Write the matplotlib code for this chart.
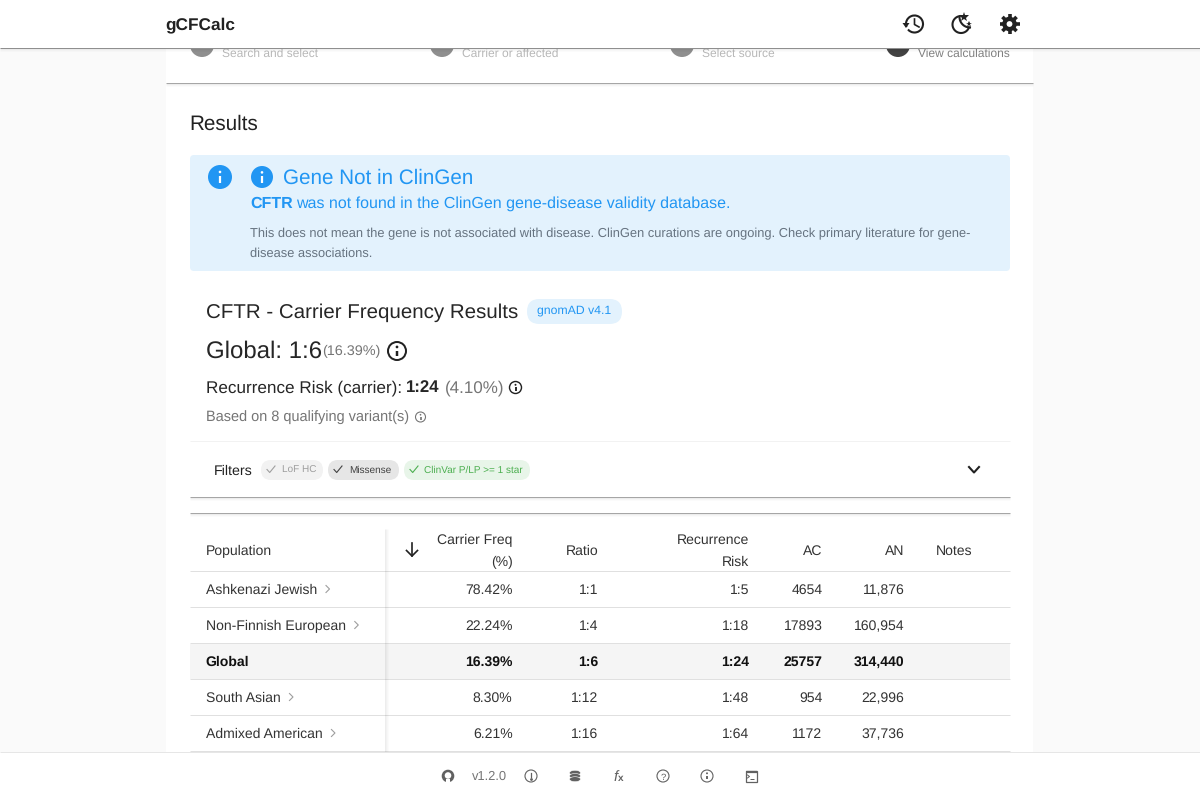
import matplotlib
matplotlib.use('Agg')
import matplotlib.pyplot as plt
import numpy as np
from matplotlib.patches import Circle, FancyBboxPatch, Rectangle, Ellipse, Arc, Polygon

plt.rcParams['font.family'] = ['Liberation Sans', 'DejaVu Sans']
plt.rcParams['text.hinting'] = 'none'
plt.rcParams['text.hinting_factor'] = 8

# table contents
populations = ['Ashkenazi Jewish', 'Non-Finnish European', 'Global', 'South Asian', 'Admixed American']
carrier_freq = ['78.42%', '22.24%', '16.39%', '8.30%', '6.21%']
ratios = ['1:1', '1:4', '1:6', '1:12', '1:16']
recurrence = ['1:5', '1:18', '1:24', '1:48', '1:64']
ac_values = ['4654', '17893', '25757', '954', '1172']
an_values = ['11,876', '160,954', '314,440', '22,996', '37,736']
step_captions = ['Search and select', 'Carrier or affected', 'Select source', 'View calculations']

DARK = '#212121'
GRAY = '#757575'
BLUE = '#2196f3'

fig = plt.figure(figsize=(12, 8), dpi=100, facecolor='#fafafa')
ax = fig.add_axes([0, 0, 1, 1])
ax.set_xlim(0, 1200)
ax.set_ylim(800, 0)
ax.axis('off')


def txt(x, y, s, px, color=DARK, ha='left', weight='normal', z=5):
    return ax.text(x, y, s, fontsize=px * 0.72, color=color, ha=ha, va='baseline',
                   fontweight=weight, zorder=z)


def rbox(x0, y0, x1, y1, r, color, z=2):
    ax.add_patch(FancyBboxPatch((x0 + r, y0 + r), x1 - x0 - 2 * r, y1 - y0 - 2 * r,
                                boxstyle='round,pad=%f,rounding_size=%f' % (r, r),
                                fc=color, ec='none', zorder=z))


def hline(x0, x1, y, color, lw=1.0, z=3, alpha=1.0):
    ax.plot([x0, x1], [y, y], color=color, lw=lw * 0.72, zorder=z, alpha=alpha, solid_capstyle='butt')


def shadow(x0, x1, y, z=3):
    # soft dark edge under a card
    hline(x0, x1, y, '#a6a6a6', 1.0, z)
    for i, a in enumerate([0.07, 0.035, 0.015]):
        hline(x0, x1, y + 1 + i, '#000000', 1, z, a)


def info_icon(x, y, r, color, lw, z=5):
    ax.add_patch(Circle((x, y), r, fc='none', ec=color, lw=lw * 0.72, zorder=z))
    ax.plot([x, x], [y - r * 0.02, y + r * 0.5], color=color, lw=r * 0.2 * 0.72 + 0.5, zorder=z,
            solid_capstyle='butt')
    ax.add_patch(Circle((x, y - r * 0.45), r * 0.13 + 0.2, fc=color, ec='none', zorder=z))


def filled_info(x, y, r):
    ax.add_patch(Circle((x, y), r, fc=BLUE, ec='none', zorder=5))
    ax.plot([x, x], [y - 1, y + r * 0.5], color='white', lw=1.6, zorder=6, solid_capstyle='butt')
    ax.add_patch(Circle((x, y - r * 0.42), 1.3, fc='white', ec='none', zorder=6))


def chevron(x, y, s, color, lw):
    ax.plot([x - s * 0.5, x + s * 0.5, x - s * 0.5], [y - s, y, y + s], color=color, lw=lw, zorder=5)


def check(x, y, color):
    ax.plot([x - 4, x - 1.3, x + 4], [y, y + 3, y - 3.5], color=color, lw=0.8, zorder=5)


# page card
ax.add_patch(Rectangle((166, 48), 867, 704, fc='white', ec='none', zorder=1))

# stepper, cut off by the app bar
step_x = [202, 442, 682, 898]
step_col = ['#8f8f8f', '#8f8f8f', '#8f8f8f', '#424242']
cap_x = [222, 462, 702, 918]
cap_col = ['#b8b8b8', '#b8b8b8', '#b8b8b8', '#808080']
for sx, sc, cx, cc, cap in zip(step_x, step_col, cap_x, cap_col, step_captions):
    ax.add_patch(Circle((sx, 45), 12, fc=sc, ec='none', zorder=2))
    txt(cx, 57, cap, 12, cc)
shadow(166, 1033, 83)

# app bar
ax.add_patch(Rectangle((0, 0), 1200, 48, fc='white', ec='none', zorder=8))
hline(0, 1200, 48, '#8f8f8f', 1.0, 9)
for i, a in enumerate([0.06, 0.03, 0.015]):
    hline(0, 1200, 49 + i, '#000000', 1, 9, a)
txt(165.5, 29, 'gCFCalc', 17.2, DARK, weight='bold', z=10)

# history icon
ax.add_patch(Arc((914.5, 24), 17, 17, theta1=-200, theta2=140, ec=DARK, lw=1.5, zorder=10))
ax.add_patch(Polygon([[902.5, 23], [909.5, 23], [906, 28]], fc=DARK, ec='none', zorder=10))
ax.plot([914.5, 914.5, 919], [19, 24.5, 27], color=DARK, lw=1.2, zorder=10)

# moon and stars icon
t_out = np.deg2rad(np.linspace(-100, -340, 40))
ax.plot(961 + 8.5 * np.cos(t_out), 24.5 + 8.5 * np.sin(t_out), color=DARK, lw=1.5, zorder=10)
t_in = np.deg2rad(np.linspace(180, 90, 20))
ax.plot(970 + 10.5 * np.cos(t_in), 17 + 10.5 * np.sin(t_in), color=DARK, lw=1.5, zorder=10)
ax.plot([963.5], [16.5], marker='*', ms=7, color=DARK, mew=0, zorder=10)
ax.plot([968.5], [24], marker='*', ms=4.5, color=DARK, mew=0, zorder=10)

# gear icon
gx, gy = 1009.5, 24
ax.add_patch(Circle((gx, gy), 7.3, fc=DARK, ec='none', zorder=10))
ax.add_patch(Circle((gx, gy), 2.9, fc='white', ec='none', zorder=11))
for ang in np.deg2rad(np.arange(0, 360, 45) + 45):
    ax.plot([gx + 6 * np.cos(ang), gx + 10 * np.cos(ang)], [gy + 6 * np.sin(ang), gy + 10 * np.sin(ang)],
            color=DARK, lw=2.6, zorder=10, solid_capstyle='butt')

txt(189.5, 130, 'Results', 20.6)

# alert
rbox(190, 155, 1010, 271, 4, '#e3f2fd')
filled_info(220, 177, 12)
filled_info(262, 177, 11)
txt(283, 184, 'Gene Not in ClinGen', 20.6, BLUE)
txt(250, 208, 'CFTR', 16, BLUE, weight='bold')
txt(296, 208, 'was not found in the ClinGen gene-disease validity database.', 16, BLUE)
txt(250, 237, 'This does not mean the gene is not associated with disease. ClinGen curations are ongoing. Check primary literature for gene-',
    12.95, '#667380')
txt(250, 257, 'disease associations.', 12.95, '#667380')

# summary
txt(206, 318, 'CFTR - Carrier Frequency Results', 20.5, '#262626')
rbox(527, 299, 622, 324, 12.5, '#e3f2fd')
txt(574, 314, 'gnomAD v4.1', 12.3, BLUE, ha='center')
txt(206, 358, 'Global: 1:6', 24, '#262626')
txt(322, 355, '(16.39%)', 14.4, GRAY)
info_icon(397, 351, 9, DARK, 2)
txt(206, 392, 'Recurrence Risk (carrier):', 17.1, '#262626')
txt(406, 392, '1:24', 16.8, '#262626', weight='bold')
txt(444.5, 392, '(4.10%)', 17, GRAY)
info_icon(515.5, 387.5, 6, DARK, 1.4)
txt(206, 421, 'Based on 8 qualifying variant(s)', 14.55, GRAY)
info_icon(420.5, 417, 5, GRAY, 1.1)
hline(190, 1010, 441, '#f2f2f2')

# filters
txt(214, 475, 'Filters', 14.2)
rbox(261, 460, 323, 480, 10, '#f2f2f2')
check(271, 469.5, '#9e9e9e')
txt(282, 473, 'LoF HC', 10, '#9e9e9e')
rbox(328, 460, 399, 480, 10, '#e6e6e6')
check(338, 469.5, '#424242')
txt(349, 473, 'Missense', 10, '#424242')
rbox(404, 460, 530, 480, 10, '#e8f5e9')
check(414, 469.5, '#4caf50')
txt(424, 473, 'ClinVar P/LP >= 1 star', 10, '#4caf50')
ax.plot([969, 974, 979], [467, 472.5, 467], color=DARK, lw=1.5, zorder=5)
shadow(190, 1010, 496.5)
shadow(190, 1010, 512.5)

# table header
txt(206, 555, 'Population', 14, '#333333')
ax.plot([412, 412], [543, 556], color=DARK, lw=1.2, zorder=5)
ax.plot([406.5, 412, 417.5], [550.5, 556, 550.5], color=DARK, lw=1.2, zorder=5)
txt(512.5, 544, 'Carrier Freq', 14, '#333333', ha='right')
txt(512.5, 566, '(%)', 14, '#333333', ha='right')
txt(598.5, 555, 'Ratio', 14, '#333333', ha='right')
txt(749.5, 544, 'Recurrence', 14, '#333333', ha='right')
txt(749.5, 566, 'Risk', 14, '#333333', ha='right')
txt(822.5, 555, 'AC', 14, '#333333', ha='right')
txt(904.5, 555, 'AN', 14, '#333333', ha='right')
txt(936, 555, 'Notes', 14, '#333333')
hline(190, 1010, 571, '#e0e0e0')

# table rows
row_top = 572
row_h = 36
fig.canvas.draw()
rend = fig.canvas.get_renderer()
for i, pop in enumerate(populations):
    top = row_top + i * row_h
    base = top + 22
    bold = pop == 'Global'
    w = 'bold' if bold else 'normal'
    col = '#111111' if bold else '#333333'
    if bold:
        ax.add_patch(Rectangle((190, top), 820, row_h - 1, fc='#f5f5f5', ec='none', zorder=2))
    t = txt(205.5 if bold else 206, base, pop, 14, col, weight=w)
    if not bold:
        ext = t.get_window_extent(rend)
        chevron(ext.x1 + 10.5, base - 5, 3.5, '#9e9e9e', 0.8)
    txt(512.5, base, carrier_freq[i], 14, col, ha='right', weight=w)
    txt(598.5, base, ratios[i], 14, col, ha='right', weight=w)
    txt(749.5, base, recurrence[i], 14, col, ha='right', weight=w)
    txt(822.5, base, ac_values[i], 14, col, ha='right', weight=w)
    txt(904.5, base, an_values[i], 14, col, ha='right', weight=w)
    hline(190, 1010, top + row_h - 1, '#e0e0e0')

# sticky column edge
for i, a in enumerate([0.07, 0.05, 0.03, 0.015]):
    ax.plot([385 + i] * 2, [529, 752], color='black', alpha=a, lw=0.72, zorder=4, solid_capstyle='butt')

# footer
ax.add_patch(Rectangle((0, 752), 1200, 48, fc='white', ec='none', zorder=8))
hline(0, 1200, 751.5, '#e6e6e6', 1.0, 9)
FOOT = '#616161'
fy = 776
ax.add_patch(Circle((448, fy), 6.3, fc=FOOT, ec='none', zorder=10))
ax.add_patch(Circle((448, fy - 0.5), 3.3, fc='white', ec='none', zorder=11))
ax.add_patch(Rectangle((446, fy + 2.5), 4, 4, fc='white', ec='none', zorder=11))
txt(472, 780, 'v1.2.0', 12.9, '#757575', z=10)
ax.add_patch(Circle((531, fy), 6, fc='none', ec=FOOT, lw=0.8, zorder=10))
ax.plot([531, 531], [fy - 3.5, fy + 0.8], color=FOOT, lw=0.9, zorder=10)
ax.plot([531], [fy + 2.8], marker='o', ms=1, color=FOOT, zorder=10)
for dy in [-3.2, 0, 3.2]:
    ax.add_patch(Ellipse((575, fy + dy), 11, 5, fc=FOOT, ec='white', lw=0.4, zorder=10))
txt(613.5, 781, 'f', 15, FOOT, z=10).set_fontstyle('italic')
txt(618, 781, 'x', 10, FOOT, z=10, weight='bold')
ax.add_patch(Circle((663, fy), 6, fc='none', ec=FOOT, lw=0.8, zorder=10))
txt(663, 779.5, '?', 9.5, FOOT, ha='center', z=10)
info_icon(707, fy, 6, FOOT, 1.1, z=10)
ax.add_patch(Rectangle((745.5, fy - 5.5), 11.5, 11, fc='none', ec=FOOT, lw=0.9, zorder=10))
hline(745.5, 757, fy - 4, FOOT, 2.2, 10)
ax.plot([747.5, 749.5, 747.5], [fy - 1, fy + 0.5, fy + 2], color=FOOT, lw=0.7, zorder=10)
hline(750, 754, fy + 2.5, FOOT, 1, 10)

fig.savefig('out.png', dpi=100, facecolor=fig.get_facecolor())
